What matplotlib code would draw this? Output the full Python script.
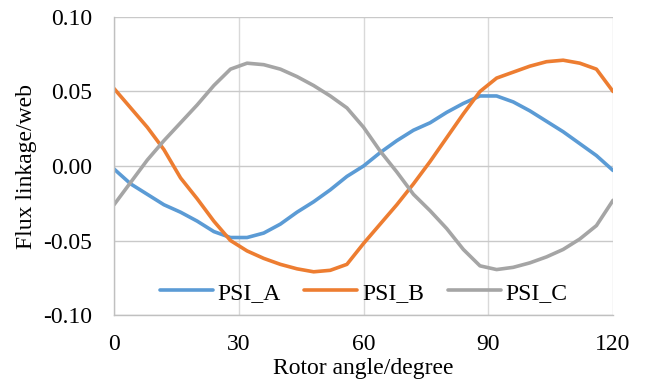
import matplotlib.pyplot as plt

# rotor angle in degrees, every 4 degrees
angle = [0, 4, 8, 12, 16, 20, 24, 28, 32, 36, 40, 44, 48, 52, 56, 60,
         64, 68, 72, 76, 80, 84, 88, 92, 96, 100, 104, 108, 112, 116, 120]

psi_a = [-0.002, -0.012, -0.019, -0.026, -0.031, -0.037, -0.044, -0.048,
         -0.048, -0.045, -0.039, -0.031, -0.024, -0.016, -0.007, 0.000,
         0.009, 0.017, 0.024, 0.029, 0.036, 0.042, 0.047, 0.047,
         0.043, 0.037, 0.030, 0.023, 0.015, 0.007, -0.003]

psi_b = [0.052, 0.039, 0.026, 0.011, -0.008, -0.022, -0.037, -0.050,
         -0.057, -0.062, -0.066, -0.069, -0.071, -0.070, -0.066, -0.052,
         -0.039, -0.026, -0.012, 0.003, 0.019, 0.035, 0.050, 0.059,
         0.063, 0.067, 0.070, 0.071, 0.069, 0.065, 0.050]

psi_c = [-0.026, -0.011, 0.004, 0.017, 0.029, 0.041, 0.054, 0.065,
         0.069, 0.068, 0.065, 0.060, 0.054, 0.047, 0.039, 0.026,
         0.010, -0.004, -0.019, -0.030, -0.042, -0.056, -0.067, -0.0695,
         -0.068, -0.065, -0.061, -0.056, -0.049, -0.040, -0.023]

names = ["PSI_A", "PSI_B", "PSI_C"]
colors = ["#5B9BD5", "#ED7D31", "#A5A5A5"]

plt.rcParams['font.family'] = ['Liberation Serif', 'DejaVu Serif']
plt.rcParams['font.size'] = 17

fig = plt.figure(figsize=(6.46, 3.81), dpi=100)
ax = fig.add_axes([0.1765, 0.1732, 0.7725, 0.7822])

for ys, name, c in zip([psi_a, psi_b, psi_c], names, colors):
    ax.plot(angle, ys, color=c, lw=2.6, label=name, solid_capstyle='round')

ax.set_xlim(0, 120)
ax.set_ylim(-0.10, 0.10)
ax.set_xticks([0, 30, 60, 90, 120])
ax.set_yticks([-0.10, -0.05, 0.00, 0.05, 0.10])
ax.set_yticklabels(["-0.10", "-0.05", "0.00", "0.05", "0.10"])

ax.xaxis.grid(True, color='#D9D9D9', lw=1.0)
ax.yaxis.grid(True, color='#C9C9C9', lw=1.0)
ax.set_axisbelow(True)
for s in ['top', 'right']:
    ax.spines[s].set_visible(False)
for s in ['left', 'bottom']:
    ax.spines[s].set_color('#C0C0C0')
    ax.spines[s].set_linewidth(1.0)
ax.tick_params(axis='x', length=0, pad=14)
ax.tick_params(axis='y', length=0, pad=16)

ax.set_xlabel("Rotor angle/degree", labelpad=2)
ax.set_ylabel("Flux linkage/web", labelpad=4)

ax.legend(loc='center', bbox_to_anchor=(0.5, 0.074), ncol=3, frameon=False,
          handlelength=2.25, handletextpad=0.2, columnspacing=1.0,
          borderaxespad=0)

fig.savefig("out.png", dpi=100)
